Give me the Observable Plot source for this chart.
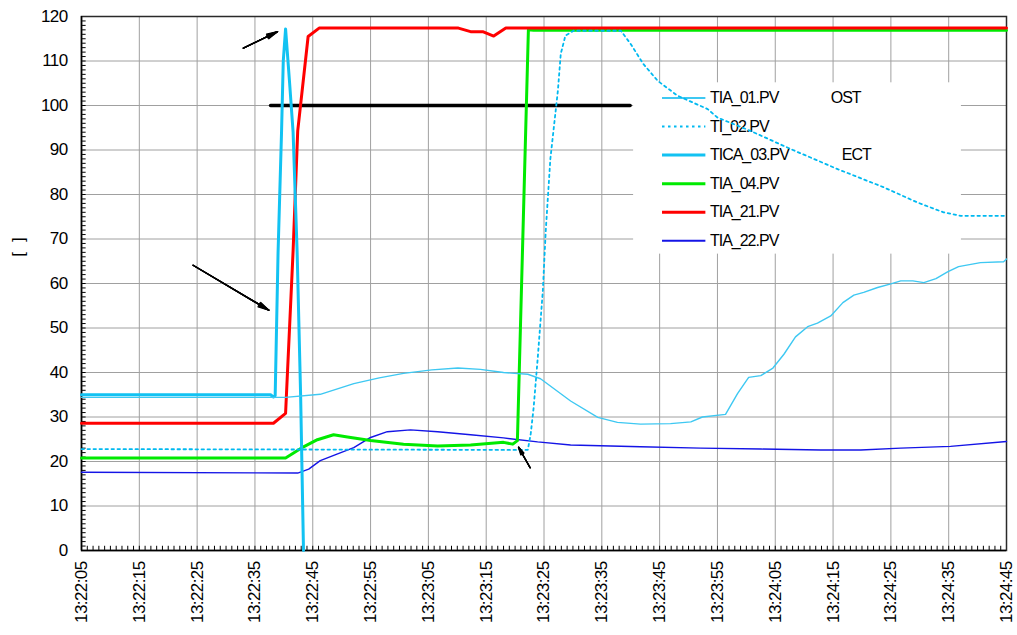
<!DOCTYPE html>
<html>
<head>
<meta charset="utf-8">
<script src="https://cdn.jsdelivr.net/npm/d3@7"></script>
<script src="https://cdn.jsdelivr.net/npm/@observablehq/plot@0.6"></script>
<style>
  body { margin: 0; background: #fff; }
  #chart svg text { letter-spacing: -0.6px; }
  #chart g[aria-label="text"] text { letter-spacing: -1px; }
</style>
</head>
<body>
<div id="chart"></div>
<script>
// Clock labels along the time axis (10 s apart) and value ticks
const xTickLabels = ["13:22:05","13:22:15","13:22:25","13:22:35","13:22:45","13:22:55",
  "13:23:05","13:23:15","13:23:25","13:23:35","13:23:45","13:23:55",
  "13:24:05","13:24:15","13:24:25","13:24:35","13:24:45"];
const yTickValues = [0,10,20,30,40,50,60,70,80,90,100,110,120];
const yAxisLabel = "[\u00a0\u00a0\u00a0]";

// Tag names and the notes printed next to some of them in the legend
const seriesNames = ["TIA_01.PV","TI_02.PV","TICA_03.PV","TIA_04.PV","TIA_21.PV","TIA_22.PV"];
const legendNotes = ["OST","","ECT","","",""];

// Trends: [seconds after 13:22:05, value]
const tia01 = [[0,34.4],[35.3,34.4],[41.3,35.1],[47.1,37.5],[51.5,38.8],[55.7,39.8],[60.6,40.6],
  [65.1,41.0],[69.0,40.7],[73.0,40.0],[77.2,39.6],[79.4,38.6],[84.6,33.6],[89.3,29.9],[92.7,28.8],
  [96.7,28.4],[101.9,28.5],[105.4,28.9],[107.4,30.0],[111.4,30.6],[113.5,35.3],[115.4,38.9],
  [117.5,39.3],[119.6,41.0],[121.5,44.1],[123.5,48.0],[125.6,50.3],[127.3,51.1],[129.6,52.7],
  [131.7,55.7],[133.6,57.4],[135.3,58.0],[137.7,59.1],[140.0,59.9],[141.7,60.6],[143.8,60.6],
  [145.7,60.2],[147.8,61.1],[149.8,62.6],[151.7,63.8],[155.5,64.7],[159.5,64.9],[160,65.5]];
const ti02 = [[0,22.8],[36.2,22.7],[77.2,22.6],[77.7,26.2],[78.2,32.0],[78.9,43.0],[79.8,58.4],
  [80.3,71.8],[81.1,88.0],[82.4,103.3],[82.9,111.6],[83.7,115.7],[85.1,116.8],[93.3,116.8],
  [95.0,113.8],[97.2,109.3],[99.7,105.5],[103.1,102.2],[108.3,99.2],[110.0,97.3],[115.7,94.3],
  [122.7,90.2],[130.8,85.7],[138.8,81.6],[144.6,78.2],[149.1,76.0],[152.1,75.2],[160,75.2]];
const tica03 = [[0,35.0],[32.7,35.0],[33.2,34.5],[33.5,34.8],[34.0,67.0],[34.6,94.0],[34.9,110.0],
  [35.3,117.2],[36.0,105.0],[36.6,94.0],[37.3,67.0],[37.9,35.0],[38.4,0]];
const tia04 = [[0,20.8],[35.3,20.8],[38.4,23.3],[40.8,24.9],[43.6,26.0],[46.0,25.5],[50.0,24.7],
  [55.7,23.9],[61.6,23.5],[67.3,23.7],[73.0,24.3],[74.6,23.9],[75.4,24.7],[77.3,117.0],
  [78.2,116.9],[160,116.9]];
const tia21 = [[0,28.6],[33.2,28.6],[35.3,30.8],[36.6,67.3],[37.4,94.3],[39.2,115.5],[41.1,117.4],
  [65.2,117.4],[67.3,116.6],[69.4,116.6],[71.3,115.6],[73.4,117.4],[160,117.4]];
const tia22 = [[0,17.6],[37.4,17.4],[39.3,18.3],[41.3,20.2],[44.3,21.7],[47.1,23.1],[50.0,25.4],
  [52.9,26.7],[56.9,27.1],[61.6,26.7],[67.3,26.0],[73.0,25.3],[78.9,24.4],[84.6,23.7],
  [96.7,23.3],[107.1,23.0],[117.5,22.8],[127.9,22.6],[134.8,22.6],[141.7,23.0],[150.3,23.4],
  [160,24.5]];

// Reference level drawn as a heavy black segment
const limitLine = [[32.7,100],[94.9,100]];

// Annotation arrows: tail (t1,v1) -> head (t2,v2)
const annotationArrows = [
  {t1: 28.0, v1: 112.9, t2: 33.9, v2: 116.6},
  {t1: 19.3, v1: 64.1, t2: 32.4, v2: 54.0},
  {t1: 77.6, v1: 18.6, t2: 75.6, v2: 23.2}
];

// Line styling for each tag (same order as seriesNames)
const seriesData = [tia01, ti02, tica03, tia04, tia21, tia22];
const seriesStyle = [
  {stroke: "#3ec8f2", strokeWidth: 1.4},
  {stroke: "#00b9f0", strokeWidth: 1.8, strokeDasharray: "2.5,3.5"},
  {stroke: "#12c2f2", strokeWidth: 3},
  {stroke: "#00ea00", strokeWidth: 3},
  {stroke: "#ff0000", strokeWidth: 3},
  {stroke: "#1414e6", strokeWidth: 1.4}
];
const drawOrder = [5, 3, 4, 2, 0, 1];

const parseClock = d3.utcParse("%H:%M:%S");
const start = parseClock(xTickLabels[0]);
const xTicks = xTickLabels.map(s => (parseClock(s) - start) / 1000);
const labelAt = new Map(xTicks.map((t, i) => [t, xTickLabels[i]]));
const tEnd = xTicks[xTicks.length - 1];

// Legend block placement (in axis units)
const legendBox = {x1: 95.5, x2: 152.2, y1: 66.6, y2: 105.1};
const legendRowTop = 101.7, legendRowStep = 6.42;
const legendLineX = [100.5, 108.0], legendTextX = 108.7;
const legendNoteX = [129.6, 0, 131.5];
const rowY = i => legendRowTop - i * legendRowStep;

const marks = [
  Plot.gridY(yTickValues, {stroke: "#a0a0a0", strokeOpacity: 1, strokeWidth: 1}),
  Plot.gridX(xTicks, {stroke: "#a0a0a0", strokeOpacity: 1, strokeWidth: 1}),
  Plot.rect([0], {...legendBox, fill: "white"}),
  Plot.ruleX(d3.range(0, tEnd + 1), {y1: 0, y2: 0.95, stroke: "#000", strokeWidth: 1}),
  Plot.ruleY(d3.range(0, 121), {x1: 0, x2: 0.8, stroke: "#000", strokeWidth: 1}),
  Plot.frame({stroke: "#2a2a2a", strokeWidth: 1.5}),
  Plot.ruleY([0], {stroke: "#000", strokeWidth: 1.5}),
  Plot.ruleX([0], {stroke: "#000", strokeWidth: 1.5}),
  Plot.line(limitLine, {x: d => d[0], y: d => d[1], stroke: "#000", strokeWidth: 3.5})
];

// Legend samples and labels
seriesNames.forEach((name, i) => {
  marks.push(Plot.ruleY([rowY(i)], {x1: legendLineX[0], x2: legendLineX[1], ...seriesStyle[i], strokeWidth: Math.max(2, seriesStyle[i].strokeWidth)}));
});
marks.push(Plot.text(seriesNames, {x: legendTextX, y: (d, i) => rowY(i), textAnchor: "start", fontSize: 16, fill: "#000"}));
marks.push(Plot.text(legendNotes.map((n, i) => ({n, i})).filter(d => d.n),
  {x: d => legendNoteX[d.i], y: d => rowY(d.i), text: "n", textAnchor: "start", fontSize: 16, fill: "#000"}));

// Trend lines
drawOrder.forEach(i => {
  marks.push(Plot.line(seriesData[i], {x: d => d[0], y: d => d[1], ...seriesStyle[i], strokeLinejoin: "round"}));
});

// Arrows with solid-looking heads
[6, 12, 18, 26].forEach(a => {
  marks.push(Plot.arrow(annotationArrows, {x1: "t1", y1: "v1", x2: "t2", y2: "v2",
    stroke: "#000", strokeWidth: 1.4, headLength: 12, headAngle: a}));
});

// Axes
marks.push(Plot.axisY(yTickValues, {tickSize: 0, tickPadding: 14, fontSize: 17, label: null}));
marks.push(Plot.axisX(xTicks, {tickSize: 0, tickPadding: 11, tickRotate: -90, fontSize: 17,
  tickFormat: d => labelAt.get(d), label: null}));
marks.push(Plot.text([yAxisLabel], {frameAnchor: "left", y: 66, dx: -63, rotate: -90, fontSize: 17, fill: "#000"}));

const chart = Plot.plot({
  width: 1017,
  height: 635,
  marginLeft: 81,
  marginRight: 11,
  marginTop: 16,
  marginBottom: 85,
  x: {domain: [0, tEnd]},
  y: {domain: [0, 120]},
  style: {fontFamily: "'Liberation Sans', Arial, sans-serif", fontSize: "17px", background: "#fff", color: "#000"},
  marks
});
document.getElementById("chart").append(chart);
</script>
</body>
</html>
